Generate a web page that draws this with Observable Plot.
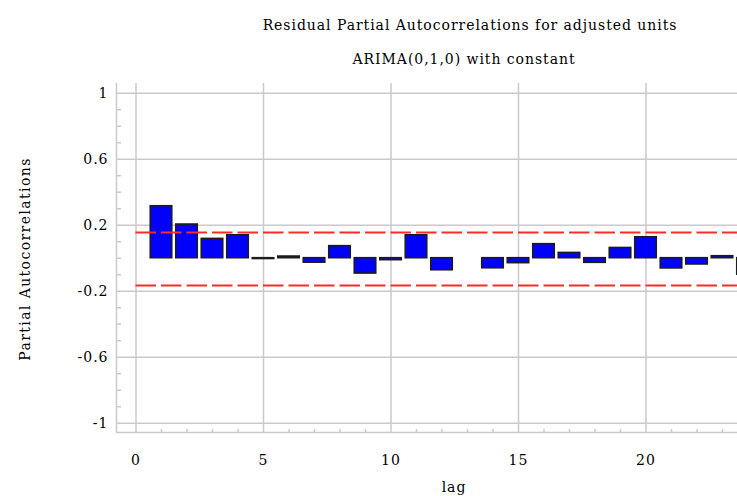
<!DOCTYPE html>
<html><head><meta charset="utf-8">
<script src="https://cdn.jsdelivr.net/npm/d3@7"></script>
<script src="https://cdn.jsdelivr.net/npm/@observablehq/plot@0.6"></script>
<style>
body{margin:0;background:#fff;}
#wrap{position:relative;width:737px;height:496px;overflow:hidden;font-family:"DejaVu Serif",serif;color:#000;background:#fff;}
#wrap svg{position:absolute;left:0;top:0;}
.t{position:absolute;white-space:nowrap;font-size:14px;letter-spacing:0.95px;transform:translate(-50%,-50%);line-height:1;}
.rot{transform:translate(-50%,-50%) rotate(-90deg);letter-spacing:1.4px;}
</style></head><body>
<div id="wrap">
<div class="t" style="left:470px;top:25px">Residual Partial Autocorrelations for adjusted units</div>
<div class="t" style="left:464px;top:59px">ARIMA(0,1,0) with constant</div>
<div class="t rot" style="left:25px;top:259px">Partial Autocorrelations</div>
<div class="t" style="left:454px;top:487px">lag</div>
</div>
<script>
// ---- data ----
const lags = [1,2,3,4,5,6,7,8,9,10,11,12,13,14,15,16,17,18,19,20,21,22,23,24];
const pacf = [0.315,0.204,0.117,0.139,-0.005,0.01,-0.027,0.073,-0.093,-0.012,0.139,-0.073,null,-0.061,-0.03,0.085,0.032,-0.028,0.062,0.127,-0.062,-0.038,0.012,-0.1];
const upperLimit = 0.156;
const lowerLimit = -0.166;
const yTicks = [1,0.6,0.2,-0.2,-0.6,-1];
const yTickLabels = ["1","0.6","0.2","-0.2","-0.6","-1"];
const xTicks = [0,5,10,15,20];
const xTickLabels = ["0","5","10","15","20"];

const bars = lags.map((lag,i)=>({lag, v: pacf[i]})).filter(d=>d.v!==null);
const yMinor = d3.range(-10,11).map(k=>k/10).filter(v=>!yTicks.some(t=>Math.abs(t-v)<1e-9));
const xMinor = d3.range(1,24).filter(v=>!xTicks.includes(v));

const W = 737, H = 496;
const mL = 116, mR = 0, mT = 83, mB = 64;
const pxPerLag = 25.5, pxPerUnit = 165;
const xMin = -(135.5-mL)/pxPerLag, xMax = xMin + (W-mL-mR)/pxPerLag;
const yTop = 1 + (92.7-mT)/pxPerUnit, yBot = yTop - (H-mT-mB)/pxPerUnit;
const grid = "#cacaca";

const chart = Plot.plot({
  width: W, height: H,
  marginLeft: mL, marginRight: mR, marginTop: mT, marginBottom: mB,
  style: {fontFamily: "'DejaVu Serif', serif", fontSize: "14px", letterSpacing: "1px", color: "#000", background: "transparent", overflow: "hidden"},
  x: {domain: [xMin, xMax]},
  y: {domain: [yBot, yTop]},
  marks: [
    Plot.gridY(yTicks, {stroke: grid, strokeOpacity: 1, strokeWidth: 1.5}),
    Plot.gridX(xTicks, {stroke: grid, strokeOpacity: 1, strokeWidth: 1.5}),
    Plot.ruleX([xMin], {stroke: grid, strokeWidth: 1.5}),
    Plot.ruleY([yBot], {stroke: grid, strokeWidth: 1.5}),
    Plot.ruleY(yMinor, {x1: xMin, x2: xMin + 5/pxPerLag, stroke: grid, strokeWidth: 1.5}),
    Plot.ruleX(xMinor, {y1: yBot, y2: yBot + 3/pxPerUnit, stroke: grid, strokeWidth: 1.5}),
    Plot.rectY(bars, {x1: d=>d.lag-0.5, x2: d=>d.lag+0.5, y1: 0, y2: "v", insetLeft: 2, insetRight: 2,
      fill: "#0000ff", stroke: "#1c1c1c", strokeWidth: 1.6, clip: true}),
    Plot.ruleY([upperLimit, lowerLimit], {x1: 0, x2: xMax, stroke: "#ff2a2a", strokeWidth: 2, strokeDasharray: "20.5,5"}),
    Plot.axisY(yTicks, {tickSize: 0, tickPadding: 8, tickFormat: (d)=>yTickLabels[yTicks.indexOf(d)], label: null, fontSize: 14}),
    Plot.axisX(xTicks, {tickSize: 0, tickPadding: 23, tickFormat: (d)=>xTickLabels[xTicks.indexOf(d)], label: null, fontSize: 14})
  ]
});
document.getElementById("wrap").prepend(chart);
</script>
</body></html>
